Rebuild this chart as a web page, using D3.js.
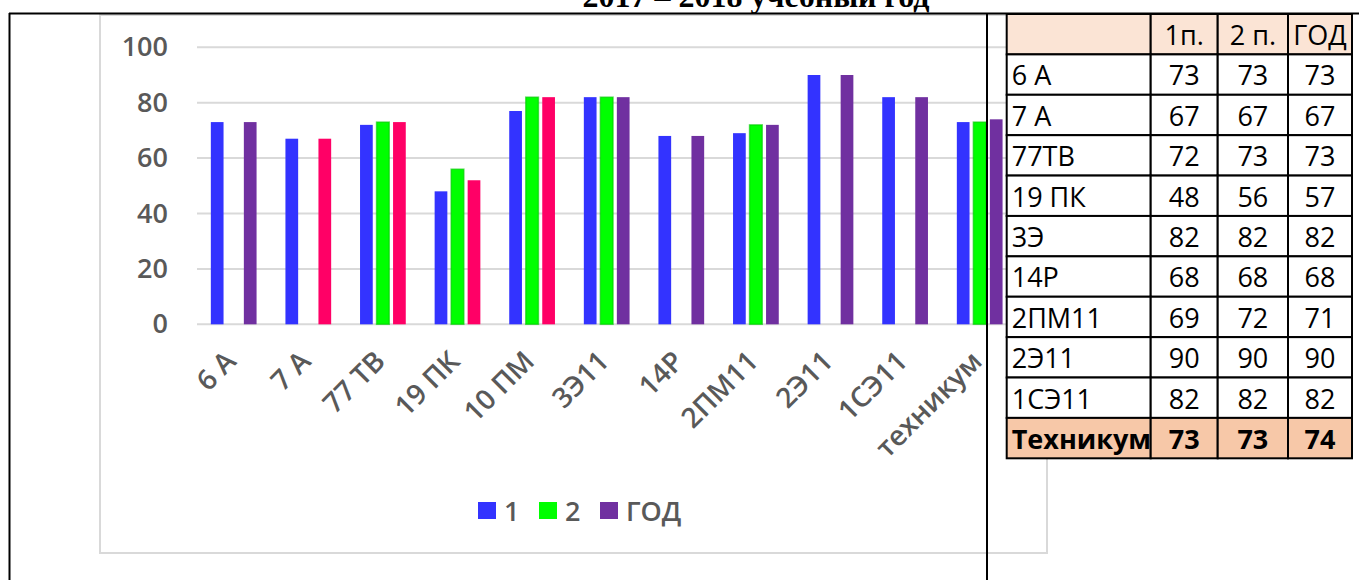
<!DOCTYPE html>
<html>
<head>
<meta charset="utf-8">
<script src="https://cdn.jsdelivr.net/npm/d3@7"></script>
<style>
  body { margin: 0; background: #fff; }
  svg { display: block; }
</style>
</head>
<body>
<svg width="1359" height="580"></svg>
<script>
// chart data
const categories = ["6 А", "7 А", "77 ТВ", "19 ПК", "10 ПМ", "3Э11", "14Р", "2ПМ11", "2Э11", "1СЭ11", "техникум"];
const seriesNames = ["1", "2", "ГОД"];
const sem1 = [73, 67, 72, 48, 77, 82, 68, 69, 90, 82, 73];
const sem2 = [null, null, 73, 56, 82, 82, null, 72, null, null, 73];
const yearVals = [73, 67, 73, 52, 82, 82, 68, 72, 90, 82, 74];
const yTicks = [0, 20, 40, 60, 80, 100];

// table data
const tableHeader = ["", "1п.", "2 п.", "ГОД"];
const tableLabels = ["6 А", "7 А", "77ТВ", "19 ПК", "3Э", "14Р", "2ПМ11", "2Э11", "1СЭ11", "Техникум"];
const table1 = [73, 67, 72, 48, 82, 68, 69, 90, 82, 73];
const table2 = [73, 67, 73, 56, 82, 68, 72, 90, 82, 73];
const tableYear = [73, 67, 73, 57, 82, 68, 71, 90, 82, 74];

const title = "2017 – 2018 учебный год";

// colours
const colors = { "1": "#3333ff", "2": "#00ff00", "ГОД": "#7030a0" };
const yearRed = "#ff0066";
const redYearCats = ["7 А", "77 ТВ", "19 ПК", "10 ПМ"];
const labelFont = "'Open Sans', sans-serif";

const svg = d3.select('svg');

// title, clipped by the top of the page (as in the source)
svg.append("text")
  .attr("x", 756).attr("y", 7)
  .attr("text-anchor", "middle")
  .attr("font-family", "'Liberation Serif', serif")
  .attr("font-weight", "bold")
  .attr("font-size", 32)
  .text(title);

// chart area border (light grey)
svg.append("rect")
  .attr("x", 100).attr("y", 15)
  .attr("width", 947).attr("height", 538)
  .attr("fill", "none")
  .attr("stroke", "#d9d9d9")
  .attr("stroke-width", 2);

// scales
const y = d3.scaleLinear().domain([0, 100]).range([324.3, 47.3]);
const x0 = d3.scaleBand().domain(categories).range([196.4, 1017])
  .paddingInner(0.387).paddingOuter(0.1935);
const x1 = d3.scaleBand().domain(seriesNames).range([0, x0.bandwidth()]).paddingInner(0.23);

// gridlines
svg.append("g")
  .selectAll("line")
  .data(yTicks)
  .enter().append("line")
    .attr("x1", 197).attr("x2", 1017)
    .attr("y1", d => y(d)).attr("y2", d => y(d))
    .attr("stroke", "#d9d9d9")
    .attr("stroke-width", 2);

// y axis labels
const yAxis = svg.append("g")
  .attr("transform", "translate(168,0)")
  .call(d3.axisLeft(y).tickValues(yTicks).tickSize(0).tickPadding(0));
yAxis.select(".domain").remove();
yAxis.selectAll("text")
  .attr("font-family", labelFont)
  .attr("font-size", 27)
  .attr("font-weight", 600)
  .attr("fill", "#595959");

// bars
const rows = categories.map((c, i) => ({
  cat: c,
  vals: [
    { s: "1", v: sem1[i] },
    { s: "2", v: sem2[i] },
    { s: "ГОД", v: yearVals[i] }
  ]
}));

const groups = svg.append("g")
  .selectAll("g")
  .data(rows)
  .enter().append("g")
    .attr("transform", d => "translate(" + x0(d.cat) + ",0)");

groups.selectAll("rect")
  .data(d => d.vals.filter(v => v.v != null).map(v => Object.assign({ cat: d.cat }, v)))
  .enter().append("rect")
    .attr("x", d => x1(d.s))
    .attr("width", x1.bandwidth())
    .attr("y", d => y(d.v))
    .attr("height", d => y(0) - y(d.v))
    .attr("fill", d => (d.s == "ГОД" && redYearCats.includes(d.cat)) ? yearRed : colors[d.s])
    .attr("stroke", d => d.s == "2" ? "rgba(0,200,0,0.6)" : "none")
    .attr("stroke-width", 1.5);

// x labels, rotated
svg.append("g")
  .selectAll("text")
  .data(categories)
  .enter().append("text")
    .attr("transform", d => "translate(" + (x0(d) + x0.bandwidth() / 2 + 4) + ",363) rotate(-45)")
    .attr("text-anchor", "end")
    .attr("font-family", labelFont)
    .attr("font-size", 28)
    .attr("font-weight", 600)
    .attr("fill", "#595959")
    .text(d => d);

// legend
const legendX = [478, 539, 600];
const legend = svg.append("g")
  .selectAll("g")
  .data(seriesNames)
  .enter().append("g")
    .attr("transform", (d, i) => "translate(" + legendX[i] + ",502)");
legend.append("rect")
  .attr("width", 18).attr("height", 17)
  .attr("fill", d => colors[d]);
legend.append("text")
  .attr("x", 26).attr("y", 19)
  .attr("font-family", labelFont)
  .attr("font-size", 27)
  .attr("font-weight", 600)
  .attr("fill", "#595959")
  .text(d => d);

// frame lines around the chart
svg.append("line")
  .attr("x1", 9).attr("x2", 1359).attr("y1", 13.5).attr("y2", 13.5)
  .attr("stroke", "#000").attr("stroke-width", 2);
svg.append("line")
  .attr("x1", 9.5).attr("x2", 9.5).attr("y1", 13).attr("y2", 580)
  .attr("stroke", "#000").attr("stroke-width", 2);
svg.append("line")
  .attr("x1", 987).attr("x2", 987).attr("y1", 13).attr("y2", 580)
  .attr("stroke", "#000").attr("stroke-width", 2);

// table on the right
const colX = [1006.7, 1150.7, 1217.7, 1288, 1352];
const rowY = d3.scaleLinear().domain([0, 11]).range([14, 458.3]);
const tableData = [tableHeader].concat(tableLabels.map((l, i) => [l, table1[i], table2[i], tableYear[i]]));

const table = svg.append("g");
tableData.forEach((row, r) => {
  const last = r == tableData.length - 1;
  row.forEach((cell, c) => {
    const x = colX[c], w = colX[c + 1] - colX[c];
    table.append("rect")
      .attr("x", x).attr("y", rowY(r))
      .attr("width", w).attr("height", rowY(r + 1) - rowY(r))
      .attr("fill", r == 0 ? "#fbe4d5" : last ? "#f7c8a8" : "#fff")
      .attr("stroke", "#000")
      .attr("stroke-width", 2);
    table.append("text")
      .attr("x", c == 0 ? x + 5 : x + w / 2)
      .attr("y", rowY(r) + 31)
      .attr("text-anchor", c == 0 ? "start" : "middle")
      .attr("font-family", labelFont)
      .attr("font-size", 27)
      .attr("font-weight", last ? "bold" : "normal")
      .attr("fill", "#000")
      .text(cell);
  });
});
</script>
</body>
</html>
